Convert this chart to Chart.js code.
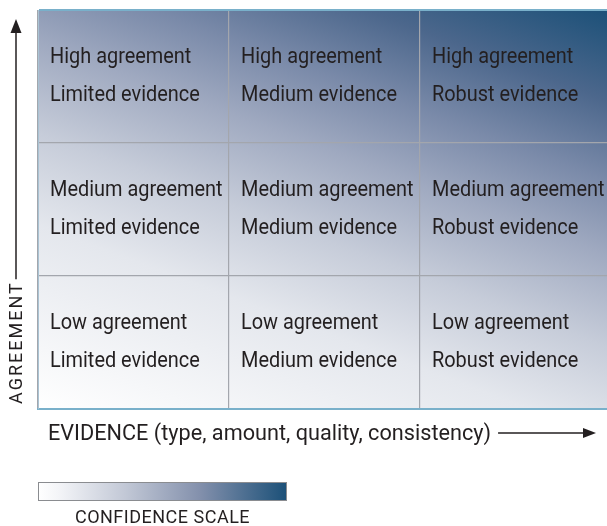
<!DOCTYPE html>
<html>
<head>
<meta charset="utf-8">
<script src="https://cdn.jsdelivr.net/npm/chart.js@4/dist/chart.umd.min.js"></script>
<style>
html,body{margin:0;padding:0;background:#fff;overflow:hidden;width:607px;height:526px;}
#wrap{position:absolute;left:0;top:0;width:612px;height:526px;}
</style>
</head>
<body>
<div id="wrap"><canvas id="c" width="612" height="526"></canvas></div>
<script>
// ---- data ----
const evidenceLevels = ['Limited', 'Medium', 'Robust'];
const agreementLevels = ['Low', 'Medium', 'High'];
const cellSpan = [1, 1, 1];
const xAxisLabel = 'EVIDENCE (type, amount, quality, consistency)';
const yAxisLabel = 'AGREEMENT';
const scaleLabel = 'CONFIDENCE SCALE';

const FONT = '"Roboto", sans-serif';
const TEXT = '#231f20';

function areaGradient(chart) {
  const a = chart.chartArea;
  if (!a) return '#ccd';
  const W = a.right - a.left, H = a.bottom - a.top;
  const gx = 0.35 / W, gy = -0.65 / H;
  const n2 = gx * gx + gy * gy;
  const x0 = a.left, y0 = a.bottom;
  const g = chart.ctx.createLinearGradient(x0, y0, x0 + gx / n2, y0 + gy / n2);
  g.addColorStop(0, '#ffffff');
  g.addColorStop(0.3, '#e4e7ed');
  g.addColorStop(0.45, '#c6ccd9');
  g.addColorStop(0.6, '#9fa9c0');
  g.addColorStop(0.72, '#7a8aa9');
  g.addColorStop(0.85, '#4c678c');
  g.addColorStop(1, '#1b5078');
  return g;
}

function drawScaled(ctx, text, x, y, sx) {
  ctx.save();
  ctx.translate(x, y);
  ctx.scale(sx, 1);
  ctx.fillText(text, 0, 0);
  ctx.restore();
}

const cellText = {
  id: 'cellText',
  afterDatasetsDraw(chart) {
    const ctx = chart.ctx;
    ctx.save();
    ctx.fillStyle = TEXT;
    ctx.font = '22px ' + FONT;
    ctx.textBaseline = 'alphabetic';
    chart.data.datasets.forEach((ds, i) => {
      chart.getDatasetMeta(i).data.forEach((el, j) => {
        const left = el.x - el.width / 2 + 12;
        drawScaled(ctx, agreementLevels[i] + ' agreement', left, el.y + 53, 0.905);
        drawScaled(ctx, evidenceLevels[j] + ' evidence', left, el.y + 91, 0.905);
      });
    });
    ctx.restore();
  }
};

const decorations = {
  id: 'decorations',
  afterDraw(chart) {
    const ctx = chart.ctx, a = chart.chartArea;
    ctx.save();
    ctx.fillStyle = TEXT; ctx.strokeStyle = TEXT;
    // x axis label + arrow
    ctx.font = '22px ' + FONT;
    ctx.textBaseline = 'alphabetic';
    const sx = 0.985;
    drawScaled(ctx, xAxisLabel, 48, a.bottom + 31, sx);
    const tw = ctx.measureText(xAxisLabel).width * sx;
    const ay = a.bottom + 24;
    ctx.lineWidth = 1.5;
    ctx.beginPath(); ctx.moveTo(48 + tw + 7, ay); ctx.lineTo(588, ay); ctx.stroke();
    ctx.beginPath(); ctx.moveTo(596, ay); ctx.lineTo(583, ay - 5); ctx.lineTo(583, ay + 5); ctx.closePath(); ctx.fill();
    // y axis label + arrow
    ctx.save();
    ctx.translate(22, a.bottom - 5);
    ctx.rotate(-Math.PI / 2);
    ctx.font = '18px ' + FONT;
    ctx.letterSpacing = '2px';
    ctx.fillText(yAxisLabel, 0, 0);
    const yw = ctx.measureText(yAxisLabel).width;
    ctx.letterSpacing = '0px';
    ctx.restore();
    ctx.lineWidth = 1.5;
    ctx.beginPath(); ctx.moveTo(16, a.bottom - 5 - yw - 2); ctx.lineTo(16, 30); ctx.stroke();
    ctx.beginPath(); ctx.moveTo(16, 19); ctx.lineTo(10.5, 33); ctx.lineTo(21.5, 33); ctx.closePath(); ctx.fill();
    // confidence scale
    const bx = 38, by = 482, bw = 249, bh = 19;
    const g = ctx.createLinearGradient(bx, 0, bx + bw, 0);
    g.addColorStop(0, '#ffffff');
    g.addColorStop(0.08, '#f4f5f8');
    g.addColorStop(0.35, '#c2c8d6');
    g.addColorStop(0.65, '#8390ac');
    g.addColorStop(1, '#1b5078');
    ctx.fillStyle = g;
    ctx.fillRect(bx, by, bw, bh);
    ctx.strokeStyle = '#8a8c90'; ctx.lineWidth = 1;
    ctx.strokeRect(bx + 0.5, by + 0.5, bw - 1, bh - 1);
    ctx.fillStyle = TEXT;
    ctx.font = '18px ' + FONT;
    ctx.textAlign = 'center';
    ctx.letterSpacing = '0.5px';
    ctx.fillText(scaleLabel, bx + bw / 2, 523);
    ctx.restore();
  }
};

new Chart(document.getElementById('c'), {
  type: 'bar',
  data: {
    labels: evidenceLevels,
    datasets: agreementLevels.map((lvl) => ({
      label: lvl + ' agreement',
      data: cellSpan,
      backgroundColor: (c) => areaGradient(c.chart),
      borderWidth: 0,
      categoryPercentage: 1,
      barPercentage: 1
    }))
  },
  options: {
    responsive: false,
    animation: false,
    layout: { padding: { left: 38, top: 10, right: 1, bottom: 117 } },
    plugins: { legend: { display: false }, tooltip: { enabled: false } },
    scales: {
      x: {
        stacked: true,
        ticks: { display: false },
        grid: { z: 1, color: '#a3a6ad', lineWidth: 1.2, drawTicks: false, offset: true },
        border: { z: 2, display: true, color: '#79b0ca', width: 2 }
      },
      y: {
        stacked: true,
        min: 0, max: 3,
        ticks: { display: false, stepSize: 1 },
        grid: {
          z: 1,
          drawTicks: false,
          color: (c) => (c.tick && c.tick.value === 3) ? '#79b0ca' : (c.tick && c.tick.value === 0 ? 'rgba(0,0,0,0)' : '#a3a6ad'),
          lineWidth: (c) => (c.tick && c.tick.value === 3) ? 2 : 1.2
        },
        border: { z: 2, display: true, color: '#a9c3d3', width: 1 }
      }
    }
  },
  plugins: [cellText, decorations]
});
</script>
</body>
</html>
